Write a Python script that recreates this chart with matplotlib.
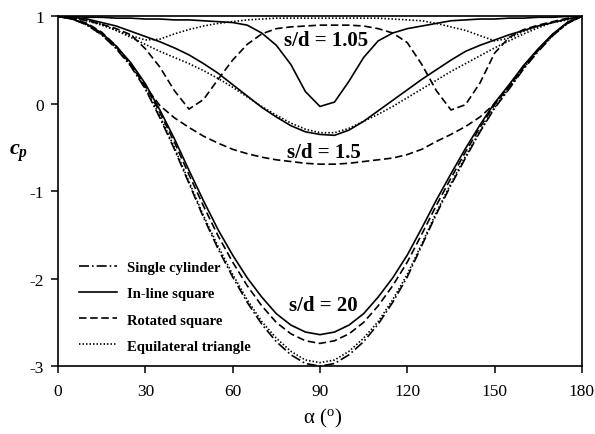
import numpy as np
import matplotlib
matplotlib.use("Agg")
import matplotlib.pyplot as plt


plt.rcParams["font.family"] = ["Liberation Serif", "DejaVu Serif"]
plt.rcParams["mathtext.fontset"] = "custom"
plt.rcParams["mathtext.rm"] = "Liberation Serif"
plt.rcParams["mathtext.it"] = "Liberation Serif:italic:bold"
plt.rcParams["mathtext.bf"] = "Liberation Serif:bold"
plt.rcParams["axes.unicode_minus"] = False

# angle grid (deg) at which the curves were read
alpha = np.arange(0, 181, 5)

# s/d = 20
single_cyl = [1.00, 0.97, 0.90, 0.79, 0.63, 0.43, 0.17, -0.16, -0.52, -0.91, -1.30, -1.66, -1.98,
              -2.27, -2.52, -2.72, -2.87, -2.97, -3.00, -2.97, -2.87, -2.72, -2.52, -2.27, -1.98,
              -1.62, -1.26, -0.93, -0.62, -0.32, -0.05, 0.17, 0.40, 0.60, 0.78, 0.92, 1.00]
inline_20 = [1.00, 0.97, 0.91, 0.81, 0.66, 0.47, 0.23, -0.07, -0.40, -0.76, -1.11, -1.44, -1.73,
             -1.99, -2.21, -2.40, -2.53, -2.61, -2.64, -2.61, -2.53, -2.40, -2.21, -1.99, -1.73,
             -1.42, -1.10, -0.80, -0.51, -0.24, 0.01, 0.22, 0.44, 0.63, 0.80, 0.93, 1.00]
rotated_20 = [1.00, 0.97, 0.91, 0.80, 0.65, 0.46, 0.21, -0.10, -0.44, -0.81, -1.17, -1.51, -1.81,
              -2.08, -2.31, -2.50, -2.63, -2.71, -2.74, -2.71, -2.63, -2.50, -2.31, -2.08, -1.81,
              -1.49, -1.16, -0.85, -0.55, -0.27, -0.01, 0.20, 0.43, 0.62, 0.79, 0.93, 1.00]
triangle_20 = [1.00, 0.97, 0.90, 0.79, 0.64, 0.44, 0.18, -0.14, -0.50, -0.89, -1.28, -1.63, -1.95,
               -2.24, -2.49, -2.68, -2.83, -2.93, -2.96, -2.93, -2.83, -2.68, -2.49, -2.24, -1.95,
               -1.60, -1.24, -0.91, -0.60, -0.31, -0.04, 0.18, 0.41, 0.61, 0.78, 0.92, 1.00]

# s/d = 1.5
inline_15 = [1.00, 0.99, 0.97, 0.93, 0.89, 0.83, 0.77, 0.71, 0.64, 0.56, 0.46, 0.35, 0.22,
             0.09, -0.04, -0.15, -0.25, -0.32, -0.35, -0.36, -0.30, -0.20, -0.08, 0.04, 0.16,
             0.28, 0.39, 0.50, 0.60, 0.67, 0.73, 0.79, 0.84, 0.89, 0.93, 0.97, 1.00]
rotated_15 = [1.00, 0.98, 0.92, 0.82, 0.66, 0.45, 0.20, -0.02, -0.16, -0.27, -0.37, -0.45, -0.52,
              -0.57, -0.61, -0.64, -0.66, -0.68, -0.69, -0.69, -0.68, -0.66, -0.64, -0.62, -0.58,
              -0.52, -0.43, -0.35, -0.26, -0.15, 0.00, 0.20, 0.42, 0.62, 0.79, 0.93, 1.00]
triangle_15 = [1.00, 0.99, 0.96, 0.91, 0.84, 0.76, 0.68, 0.60, 0.53, 0.46, 0.38, 0.29, 0.19,
               0.08, -0.03, -0.13, -0.22, -0.29, -0.33, -0.33, -0.28, -0.20, -0.12, -0.03, 0.07,
               0.17, 0.27, 0.37, 0.46, 0.55, 0.64, 0.72, 0.80, 0.87, 0.93, 0.97, 1.00]

# s/d = 1.05
inline_105 = [1.00, 1.00, 0.99, 0.99, 0.98, 0.98, 0.97, 0.97, 0.96, 0.96, 0.95, 0.94, 0.93,
              0.90, 0.81, 0.67, 0.45, 0.14, -0.03, 0.02, 0.26, 0.53, 0.72, 0.81, 0.86,
              0.89, 0.92, 0.95, 0.96, 0.97, 0.97, 0.98, 0.98, 0.99, 0.99, 1.00, 1.00]
rotated_105 = [1.00, 0.99, 0.95, 0.91, 0.86, 0.79, 0.63, 0.42, 0.15, -0.06, 0.05, 0.28, 0.50,
               0.68, 0.80, 0.86, 0.88, 0.89, 0.90, 0.90, 0.90, 0.89, 0.86, 0.81, 0.70,
               0.45, 0.15, -0.07, -0.01, 0.24, 0.58, 0.76, 0.85, 0.90, 0.94, 0.98, 1.00]
triangle_105 = [1.00, 0.99, 0.95, 0.90, 0.84, 0.78, 0.73, 0.74, 0.80, 0.85, 0.89, 0.92, 0.94,
                0.96, 0.97, 0.98, 0.98, 0.98, 0.98, 0.98, 0.98, 0.98, 0.98, 0.97, 0.96,
                0.95, 0.92, 0.88, 0.84, 0.78, 0.72, 0.75, 0.83, 0.89, 0.93, 0.96, 1.00]

series_labels = ["Single cylinder", "In-line square", "Rotated square", "Equilateral triangle"]
x_ticks = [0, 30, 60, 90, 120, 150, 180]
y_ticks = [-3, -2, -1, 0, 1]


def main():
	fig = plt.figure(figsize=(5.95, 4.35), dpi=100)
	ax = fig.add_axes([0.0975, 0.156, 0.8805, 0.804])

	lw = 1.2
	dashdot = (0, (6, 1.8, 1, 1.8))
	dashed = (0, (4.5, 2.2))
	dotted = (0, (0.9, 1.2))

	ax.plot(alpha, single_cyl, color="black", lw=lw, linestyle=dashdot, label=series_labels[0])
	ax.plot(alpha, inline_20, color="black", lw=lw, linestyle="-", label=series_labels[1])
	ax.plot(alpha, rotated_20, color="black", lw=lw, linestyle=dashed, label=series_labels[2])
	ax.plot(alpha, triangle_20, color="black", lw=lw, linestyle=dotted, label=series_labels[3])

	ax.plot(alpha, inline_15, color="black", lw=lw, linestyle="-")
	ax.plot(alpha, rotated_15, color="black", lw=lw, linestyle=dashed)
	ax.plot(alpha, triangle_15, color="black", lw=lw, linestyle=dotted)

	ax.plot(alpha, inline_105, color="black", lw=lw, linestyle="-")
	ax.plot(alpha, rotated_105, color="black", lw=lw, linestyle=dashed)
	ax.plot(alpha, triangle_105, color="black", lw=lw, linestyle=dotted)

	ax.set_xlim(0, 180)
	ax.set_ylim(-3, 1)
	ax.set_xticks(x_ticks)
	ax.set_yticks(y_ticks)
	ax.tick_params(axis="both", direction="out", length=5, width=1.1, labelsize=12.5)
	ax.tick_params(axis="x", pad=7)
	ax.tick_params(axis="y", pad=5)
	for spine in ax.spines.values():
		spine.set_linewidth(1.2)

	bold = dict(fontsize=15, fontweight="bold", ha="center", va="center")
	ax.text(92, 0.73, "s/d = 1.05", **bold)
	ax.text(91.5, -0.55, "s/d = 1.5", **bold)
	ax.text(91, -2.30, "s/d = 20", **bold)

	ax.set_ylabel("$c_p$", rotation=0, fontsize=16)
	ax.yaxis.set_label_coords(-0.075, 0.58)
	ax.set_xlabel("α ($^{\\rm o}$)", fontsize=15)
	ax.xaxis.set_label_coords(0.505, -0.146)
	ax.xaxis.label.set_va("center")

	ax.legend(loc="upper left", bbox_to_anchor=(0.04, 0.300), frameon=False,
			  prop={"family": "Liberation Serif", "weight": "bold", "size": 10.5},
			  handlelength=2.6, handletextpad=0.7, labelspacing=0.88,
			  borderpad=0, borderaxespad=0)

	fig.savefig("out.png", dpi=100)


if __name__ == '__main__':
	main()
